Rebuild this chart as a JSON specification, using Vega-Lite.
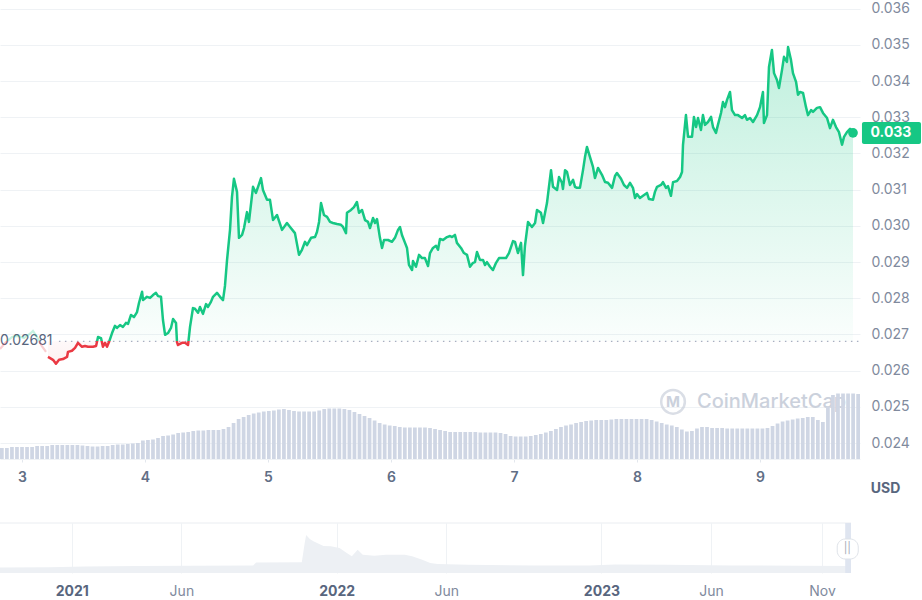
{
  "$schema": "https://vega.github.io/schema/vega-lite/v6.json",
  "padding": {"left": -5, "top": 0, "right": 0, "bottom": 0},
  "background": "white",
  "spacing": 27,
  "config": {"font": "Inter", "view": {"stroke": null}},
  "datasets": {
    "price": [
      {"seg": "pre", "t": 2.821, "p": 0.02660}, {"seg": "pre", "t": 2.870, "p": 0.02679}, {"seg": "pre", "t": 2.919, "p": 0.02693},
      {"seg": "pre", "t": 2.967, "p": 0.02696}, {"seg": "pre", "t": 3.016, "p": 0.02690}, {"seg": "pre", "t": 3.065, "p": 0.02702},
      {"seg": "pre", "t": 3.089, "p": 0.02710}, {"seg": "pre", "t": 3.122, "p": 0.02693}, {"seg": "pre", "t": 3.162, "p": 0.02668},
      {"seg": "pre", "t": 3.195, "p": 0.02652},
      {"seg": "main", "t": 3.211, "p": 0.02638}, {"seg": "main", "t": 3.252, "p": 0.02630}, {"seg": "main", "t": 3.276, "p": 0.02619},
      {"seg": "main", "t": 3.301, "p": 0.02630}, {"seg": "main", "t": 3.333, "p": 0.02632}, {"seg": "main", "t": 3.366, "p": 0.02638},
      {"seg": "main", "t": 3.374, "p": 0.02652}, {"seg": "main", "t": 3.406, "p": 0.02655}, {"seg": "main", "t": 3.431, "p": 0.02663},
      {"seg": "main", "t": 3.455, "p": 0.02677}, {"seg": "main", "t": 3.488, "p": 0.02666}, {"seg": "main", "t": 3.512, "p": 0.02668},
      {"seg": "main", "t": 3.536, "p": 0.02666}, {"seg": "main", "t": 3.577, "p": 0.02666}, {"seg": "main", "t": 3.602, "p": 0.02668},
      {"seg": "main", "t": 3.618, "p": 0.02693}, {"seg": "main", "t": 3.642, "p": 0.02690}, {"seg": "main", "t": 3.658, "p": 0.02666},
      {"seg": "main", "t": 3.675, "p": 0.02677}, {"seg": "main", "t": 3.691, "p": 0.02666}, {"seg": "main", "t": 3.707, "p": 0.02679},
      {"seg": "main", "t": 3.732, "p": 0.02704}, {"seg": "main", "t": 3.756, "p": 0.02724}, {"seg": "main", "t": 3.772, "p": 0.02718},
      {"seg": "main", "t": 3.797, "p": 0.02726}, {"seg": "main", "t": 3.821, "p": 0.02721}, {"seg": "main", "t": 3.845, "p": 0.02732},
      {"seg": "main", "t": 3.862, "p": 0.02729}, {"seg": "main", "t": 3.886, "p": 0.02754}, {"seg": "main", "t": 3.910, "p": 0.02748},
      {"seg": "main", "t": 3.935, "p": 0.02762}, {"seg": "main", "t": 3.951, "p": 0.02787}, {"seg": "main", "t": 3.976, "p": 0.02818},
      {"seg": "main", "t": 3.984, "p": 0.02795}, {"seg": "main", "t": 4.016, "p": 0.02804}, {"seg": "main", "t": 4.041, "p": 0.02801},
      {"seg": "main", "t": 4.065, "p": 0.02809}, {"seg": "main", "t": 4.089, "p": 0.02815}, {"seg": "main", "t": 4.106, "p": 0.02806},
      {"seg": "main", "t": 4.130, "p": 0.02804}, {"seg": "main", "t": 4.146, "p": 0.02740}, {"seg": "main", "t": 4.163, "p": 0.02699},
      {"seg": "main", "t": 4.187, "p": 0.02704}, {"seg": "main", "t": 4.211, "p": 0.02718}, {"seg": "main", "t": 4.228, "p": 0.02743},
      {"seg": "main", "t": 4.252, "p": 0.02732}, {"seg": "main", "t": 4.260, "p": 0.02679}, {"seg": "main", "t": 4.268, "p": 0.02671},
      {"seg": "main", "t": 4.301, "p": 0.02677}, {"seg": "main", "t": 4.325, "p": 0.02677}, {"seg": "main", "t": 4.350, "p": 0.02671},
      {"seg": "main", "t": 4.366, "p": 0.02721}, {"seg": "main", "t": 4.390, "p": 0.02773}, {"seg": "main", "t": 4.406, "p": 0.02771},
      {"seg": "main", "t": 4.431, "p": 0.02760}, {"seg": "main", "t": 4.447, "p": 0.02776}, {"seg": "main", "t": 4.471, "p": 0.02757},
      {"seg": "main", "t": 4.496, "p": 0.02784}, {"seg": "main", "t": 4.512, "p": 0.02776}, {"seg": "main", "t": 4.536, "p": 0.02790},
      {"seg": "main", "t": 4.553, "p": 0.02804}, {"seg": "main", "t": 4.585, "p": 0.02815}, {"seg": "main", "t": 4.610, "p": 0.02804},
      {"seg": "main", "t": 4.634, "p": 0.02795}, {"seg": "main", "t": 4.650, "p": 0.02834}, {"seg": "main", "t": 4.667, "p": 0.02906},
      {"seg": "main", "t": 4.691, "p": 0.02989}, {"seg": "main", "t": 4.707, "p": 0.03080}, {"seg": "main", "t": 4.723, "p": 0.03130},
      {"seg": "main", "t": 4.748, "p": 0.03094}, {"seg": "main", "t": 4.764, "p": 0.02967}, {"seg": "main", "t": 4.789, "p": 0.02975},
      {"seg": "main", "t": 4.805, "p": 0.02994}, {"seg": "main", "t": 4.829, "p": 0.03038}, {"seg": "main", "t": 4.845, "p": 0.03011},
      {"seg": "main", "t": 4.878, "p": 0.03108}, {"seg": "main", "t": 4.902, "p": 0.03091}, {"seg": "main", "t": 4.919, "p": 0.03108},
      {"seg": "main", "t": 4.943, "p": 0.03132}, {"seg": "main", "t": 4.959, "p": 0.03099}, {"seg": "main", "t": 4.992, "p": 0.03072},
      {"seg": "main", "t": 5.016, "p": 0.03072}, {"seg": "main", "t": 5.041, "p": 0.03016}, {"seg": "main", "t": 5.073, "p": 0.03030},
      {"seg": "main", "t": 5.114, "p": 0.02989}, {"seg": "main", "t": 5.154, "p": 0.03008}, {"seg": "main", "t": 5.179, "p": 0.02997},
      {"seg": "main", "t": 5.219, "p": 0.02980}, {"seg": "main", "t": 5.252, "p": 0.02920}, {"seg": "main", "t": 5.276, "p": 0.02934},
      {"seg": "main", "t": 5.301, "p": 0.02956}, {"seg": "main", "t": 5.317, "p": 0.02947}, {"seg": "main", "t": 5.350, "p": 0.02967},
      {"seg": "main", "t": 5.382, "p": 0.02969}, {"seg": "main", "t": 5.398, "p": 0.02983}, {"seg": "main", "t": 5.415, "p": 0.03011},
      {"seg": "main", "t": 5.431, "p": 0.03063}, {"seg": "main", "t": 5.455, "p": 0.03030}, {"seg": "main", "t": 5.480, "p": 0.03025},
      {"seg": "main", "t": 5.504, "p": 0.03011}, {"seg": "main", "t": 5.528, "p": 0.03008}, {"seg": "main", "t": 5.561, "p": 0.03005},
      {"seg": "main", "t": 5.593, "p": 0.03003}, {"seg": "main", "t": 5.610, "p": 0.02997}, {"seg": "main", "t": 5.634, "p": 0.02980},
      {"seg": "main", "t": 5.642, "p": 0.03036}, {"seg": "main", "t": 5.675, "p": 0.03044}, {"seg": "main", "t": 5.699, "p": 0.03052},
      {"seg": "main", "t": 5.723, "p": 0.03066}, {"seg": "main", "t": 5.740, "p": 0.03036}, {"seg": "main", "t": 5.764, "p": 0.03044},
      {"seg": "main", "t": 5.789, "p": 0.03016}, {"seg": "main", "t": 5.813, "p": 0.03011}, {"seg": "main", "t": 5.829, "p": 0.02994},
      {"seg": "main", "t": 5.854, "p": 0.03022}, {"seg": "main", "t": 5.870, "p": 0.03008}, {"seg": "main", "t": 5.886, "p": 0.03019},
      {"seg": "main", "t": 5.910, "p": 0.02967}, {"seg": "main", "t": 5.927, "p": 0.02939}, {"seg": "main", "t": 5.943, "p": 0.02961},
      {"seg": "main", "t": 5.976, "p": 0.02961}, {"seg": "main", "t": 6.008, "p": 0.02956}, {"seg": "main", "t": 6.032, "p": 0.02967},
      {"seg": "main", "t": 6.057, "p": 0.02989}, {"seg": "main", "t": 6.073, "p": 0.02997}, {"seg": "main", "t": 6.089, "p": 0.02975},
      {"seg": "main", "t": 6.114, "p": 0.02953}, {"seg": "main", "t": 6.130, "p": 0.02939}, {"seg": "main", "t": 6.146, "p": 0.02892},
      {"seg": "main", "t": 6.171, "p": 0.02878}, {"seg": "main", "t": 6.179, "p": 0.02903}, {"seg": "main", "t": 6.203, "p": 0.02887},
      {"seg": "main", "t": 6.228, "p": 0.02920}, {"seg": "main", "t": 6.252, "p": 0.02911}, {"seg": "main", "t": 6.276, "p": 0.02911},
      {"seg": "main", "t": 6.301, "p": 0.02889}, {"seg": "main", "t": 6.317, "p": 0.02925}, {"seg": "main", "t": 6.341, "p": 0.02939},
      {"seg": "main", "t": 6.366, "p": 0.02945}, {"seg": "main", "t": 6.382, "p": 0.02934}, {"seg": "main", "t": 6.398, "p": 0.02964},
      {"seg": "main", "t": 6.423, "p": 0.02961}, {"seg": "main", "t": 6.455, "p": 0.02969}, {"seg": "main", "t": 6.480, "p": 0.02972},
      {"seg": "main", "t": 6.496, "p": 0.02969}, {"seg": "main", "t": 6.520, "p": 0.02975}, {"seg": "main", "t": 6.536, "p": 0.02953},
      {"seg": "main", "t": 6.569, "p": 0.02939}, {"seg": "main", "t": 6.593, "p": 0.02925}, {"seg": "main", "t": 6.618, "p": 0.02920},
      {"seg": "main", "t": 6.642, "p": 0.02887}, {"seg": "main", "t": 6.667, "p": 0.02898}, {"seg": "main", "t": 6.683, "p": 0.02900},
      {"seg": "main", "t": 6.699, "p": 0.02928}, {"seg": "main", "t": 6.723, "p": 0.02906}, {"seg": "main", "t": 6.748, "p": 0.02906},
      {"seg": "main", "t": 6.764, "p": 0.02892}, {"seg": "main", "t": 6.780, "p": 0.02900}, {"seg": "main", "t": 6.805, "p": 0.02887},
      {"seg": "main", "t": 6.829, "p": 0.02878}, {"seg": "main", "t": 6.854, "p": 0.02898}, {"seg": "main", "t": 6.878, "p": 0.02911},
      {"seg": "main", "t": 6.910, "p": 0.02911}, {"seg": "main", "t": 6.935, "p": 0.02911}, {"seg": "main", "t": 6.959, "p": 0.02925},
      {"seg": "main", "t": 6.992, "p": 0.02958}, {"seg": "main", "t": 7.008, "p": 0.02956}, {"seg": "main", "t": 7.032, "p": 0.02925},
      {"seg": "main", "t": 7.057, "p": 0.02953}, {"seg": "main", "t": 7.073, "p": 0.02864}, {"seg": "main", "t": 7.089, "p": 0.02945},
      {"seg": "main", "t": 7.114, "p": 0.03011}, {"seg": "main", "t": 7.146, "p": 0.02997}, {"seg": "main", "t": 7.171, "p": 0.03008},
      {"seg": "main", "t": 7.187, "p": 0.03044}, {"seg": "main", "t": 7.219, "p": 0.03036}, {"seg": "main", "t": 7.236, "p": 0.03008},
      {"seg": "main", "t": 7.268, "p": 0.03063}, {"seg": "main", "t": 7.284, "p": 0.03108}, {"seg": "main", "t": 7.301, "p": 0.03154},
      {"seg": "main", "t": 7.317, "p": 0.03108}, {"seg": "main", "t": 7.350, "p": 0.03099}, {"seg": "main", "t": 7.366, "p": 0.03135},
      {"seg": "main", "t": 7.390, "p": 0.03119}, {"seg": "main", "t": 7.398, "p": 0.03102}, {"seg": "main", "t": 7.415, "p": 0.03154},
      {"seg": "main", "t": 7.431, "p": 0.03149}, {"seg": "main", "t": 7.455, "p": 0.03113}, {"seg": "main", "t": 7.480, "p": 0.03127},
      {"seg": "main", "t": 7.496, "p": 0.03108}, {"seg": "main", "t": 7.512, "p": 0.03105}, {"seg": "main", "t": 7.536, "p": 0.03105},
      {"seg": "main", "t": 7.561, "p": 0.03154}, {"seg": "main", "t": 7.577, "p": 0.03190}, {"seg": "main", "t": 7.593, "p": 0.03218},
      {"seg": "main", "t": 7.618, "p": 0.03190}, {"seg": "main", "t": 7.642, "p": 0.03163}, {"seg": "main", "t": 7.658, "p": 0.03132},
      {"seg": "main", "t": 7.683, "p": 0.03160}, {"seg": "main", "t": 7.715, "p": 0.03141}, {"seg": "main", "t": 7.740, "p": 0.03121},
      {"seg": "main", "t": 7.764, "p": 0.03119}, {"seg": "main", "t": 7.797, "p": 0.03105}, {"seg": "main", "t": 7.821, "p": 0.03138},
      {"seg": "main", "t": 7.837, "p": 0.03146}, {"seg": "main", "t": 7.870, "p": 0.03130}, {"seg": "main", "t": 7.894, "p": 0.03113},
      {"seg": "main", "t": 7.919, "p": 0.03105}, {"seg": "main", "t": 7.943, "p": 0.03119}, {"seg": "main", "t": 7.967, "p": 0.03105},
      {"seg": "main", "t": 7.984, "p": 0.03077}, {"seg": "main", "t": 8.000, "p": 0.03088}, {"seg": "main", "t": 8.024, "p": 0.03077},
      {"seg": "main", "t": 8.049, "p": 0.03083}, {"seg": "main", "t": 8.081, "p": 0.03091}, {"seg": "main", "t": 8.097, "p": 0.03074},
      {"seg": "main", "t": 8.130, "p": 0.03072}, {"seg": "main", "t": 8.146, "p": 0.03094}, {"seg": "main", "t": 8.163, "p": 0.03108},
      {"seg": "main", "t": 8.195, "p": 0.03113}, {"seg": "main", "t": 8.211, "p": 0.03121}, {"seg": "main", "t": 8.236, "p": 0.03105},
      {"seg": "main", "t": 8.252, "p": 0.03110}, {"seg": "main", "t": 8.276, "p": 0.03083}, {"seg": "main", "t": 8.293, "p": 0.03121},
      {"seg": "main", "t": 8.325, "p": 0.03124}, {"seg": "main", "t": 8.350, "p": 0.03135}, {"seg": "main", "t": 8.366, "p": 0.03149},
      {"seg": "main", "t": 8.374, "p": 0.03224}, {"seg": "main", "t": 8.398, "p": 0.03306}, {"seg": "main", "t": 8.415, "p": 0.03246},
      {"seg": "main", "t": 8.447, "p": 0.03246}, {"seg": "main", "t": 8.463, "p": 0.03301}, {"seg": "main", "t": 8.480, "p": 0.03273},
      {"seg": "main", "t": 8.496, "p": 0.03298}, {"seg": "main", "t": 8.520, "p": 0.03265}, {"seg": "main", "t": 8.536, "p": 0.03306},
      {"seg": "main", "t": 8.553, "p": 0.03279}, {"seg": "main", "t": 8.577, "p": 0.03287}, {"seg": "main", "t": 8.602, "p": 0.03301},
      {"seg": "main", "t": 8.618, "p": 0.03273}, {"seg": "main", "t": 8.642, "p": 0.03257}, {"seg": "main", "t": 8.658, "p": 0.03279},
      {"seg": "main", "t": 8.683, "p": 0.03312}, {"seg": "main", "t": 8.699, "p": 0.03342}, {"seg": "main", "t": 8.715, "p": 0.03328},
      {"seg": "main", "t": 8.732, "p": 0.03348}, {"seg": "main", "t": 8.756, "p": 0.03370}, {"seg": "main", "t": 8.772, "p": 0.03320},
      {"seg": "main", "t": 8.797, "p": 0.03306}, {"seg": "main", "t": 8.821, "p": 0.03306}, {"seg": "main", "t": 8.854, "p": 0.03298},
      {"seg": "main", "t": 8.878, "p": 0.03306}, {"seg": "main", "t": 8.894, "p": 0.03293}, {"seg": "main", "t": 8.919, "p": 0.03298},
      {"seg": "main", "t": 8.943, "p": 0.03287}, {"seg": "main", "t": 8.976, "p": 0.03306}, {"seg": "main", "t": 9.000, "p": 0.03328},
      {"seg": "main", "t": 9.024, "p": 0.03370}, {"seg": "main", "t": 9.032, "p": 0.03284}, {"seg": "main", "t": 9.057, "p": 0.03306},
      {"seg": "main", "t": 9.073, "p": 0.03439}, {"seg": "main", "t": 9.097, "p": 0.03486}, {"seg": "main", "t": 9.114, "p": 0.03422},
      {"seg": "main", "t": 9.138, "p": 0.03403}, {"seg": "main", "t": 9.154, "p": 0.03381}, {"seg": "main", "t": 9.179, "p": 0.03431},
      {"seg": "main", "t": 9.195, "p": 0.03467}, {"seg": "main", "t": 9.219, "p": 0.03453}, {"seg": "main", "t": 9.228, "p": 0.03494},
      {"seg": "main", "t": 9.252, "p": 0.03458}, {"seg": "main", "t": 9.268, "p": 0.03422}, {"seg": "main", "t": 9.293, "p": 0.03398},
      {"seg": "main", "t": 9.309, "p": 0.03362}, {"seg": "main", "t": 9.325, "p": 0.03370}, {"seg": "main", "t": 9.350, "p": 0.03367},
      {"seg": "main", "t": 9.374, "p": 0.03328}, {"seg": "main", "t": 9.390, "p": 0.03306}, {"seg": "main", "t": 9.415, "p": 0.03320},
      {"seg": "main", "t": 9.431, "p": 0.03315}, {"seg": "main", "t": 9.463, "p": 0.03326}, {"seg": "main", "t": 9.488, "p": 0.03328},
      {"seg": "main", "t": 9.512, "p": 0.03312}, {"seg": "main", "t": 9.545, "p": 0.03298}, {"seg": "main", "t": 9.569, "p": 0.03270},
      {"seg": "main", "t": 9.593, "p": 0.03293}, {"seg": "main", "t": 9.618, "p": 0.03273}, {"seg": "main", "t": 9.642, "p": 0.03259},
      {"seg": "main", "t": 9.667, "p": 0.03224}, {"seg": "main", "t": 9.683, "p": 0.03246}, {"seg": "main", "t": 9.707, "p": 0.03259},
      {"seg": "main", "t": 9.732, "p": 0.03268}, {"seg": "main", "t": 9.756, "p": 0.03257}
    ],
    "volume": [
      {"i": 0, "vol": 11}, {"i": 1, "vol": 11}, {"i": 2, "vol": 12}, {"i": 3, "vol": 12}, {"i": 4, "vol": 12},
      {"i": 5, "vol": 12}, {"i": 6, "vol": 12}, {"i": 7, "vol": 13}, {"i": 8, "vol": 13}, {"i": 9, "vol": 13},
      {"i": 10, "vol": 14}, {"i": 11, "vol": 14}, {"i": 12, "vol": 14}, {"i": 13, "vol": 14}, {"i": 14, "vol": 14},
      {"i": 15, "vol": 14}, {"i": 16, "vol": 13.5}, {"i": 17, "vol": 13}, {"i": 18, "vol": 12.5}, {"i": 19, "vol": 12.5},
      {"i": 20, "vol": 13}, {"i": 21, "vol": 13}, {"i": 22, "vol": 14}, {"i": 23, "vol": 14.5}, {"i": 24, "vol": 14.5},
      {"i": 25, "vol": 15}, {"i": 26, "vol": 15.5}, {"i": 27, "vol": 16}, {"i": 28, "vol": 18.5}, {"i": 29, "vol": 19},
      {"i": 30, "vol": 19.5}, {"i": 31, "vol": 21}, {"i": 32, "vol": 23}, {"i": 33, "vol": 23.5}, {"i": 34, "vol": 24.5},
      {"i": 35, "vol": 26}, {"i": 36, "vol": 26.5}, {"i": 37, "vol": 27}, {"i": 38, "vol": 28}, {"i": 39, "vol": 28.5},
      {"i": 40, "vol": 28.5}, {"i": 41, "vol": 29}, {"i": 42, "vol": 29}, {"i": 43, "vol": 29}, {"i": 44, "vol": 30},
      {"i": 45, "vol": 32}, {"i": 46, "vol": 36}, {"i": 47, "vol": 40}, {"i": 48, "vol": 42}, {"i": 49, "vol": 44},
      {"i": 50, "vol": 45.5}, {"i": 51, "vol": 46.5}, {"i": 52, "vol": 47.5}, {"i": 53, "vol": 48}, {"i": 54, "vol": 48.5},
      {"i": 55, "vol": 49.5}, {"i": 56, "vol": 50}, {"i": 57, "vol": 49}, {"i": 58, "vol": 48}, {"i": 59, "vol": 47.5},
      {"i": 60, "vol": 47.5}, {"i": 61, "vol": 47.5}, {"i": 62, "vol": 47.5}, {"i": 63, "vol": 48.5}, {"i": 64, "vol": 50},
      {"i": 65, "vol": 50.5}, {"i": 66, "vol": 50.5}, {"i": 67, "vol": 50.5}, {"i": 68, "vol": 50}, {"i": 69, "vol": 49},
      {"i": 70, "vol": 47}, {"i": 71, "vol": 45}, {"i": 72, "vol": 43}, {"i": 73, "vol": 41}, {"i": 74, "vol": 38.5},
      {"i": 75, "vol": 36}, {"i": 76, "vol": 34.5}, {"i": 77, "vol": 33.5}, {"i": 78, "vol": 33}, {"i": 79, "vol": 32},
      {"i": 80, "vol": 31.5}, {"i": 81, "vol": 31.5}, {"i": 82, "vol": 31.5}, {"i": 83, "vol": 31.5}, {"i": 84, "vol": 31.5},
      {"i": 85, "vol": 31}, {"i": 86, "vol": 30}, {"i": 87, "vol": 29}, {"i": 88, "vol": 28}, {"i": 89, "vol": 27},
      {"i": 90, "vol": 27}, {"i": 91, "vol": 27}, {"i": 92, "vol": 27}, {"i": 93, "vol": 27}, {"i": 94, "vol": 27},
      {"i": 95, "vol": 26.5}, {"i": 96, "vol": 26.5}, {"i": 97, "vol": 26.5}, {"i": 98, "vol": 26.5}, {"i": 99, "vol": 26},
      {"i": 100, "vol": 25}, {"i": 101, "vol": 23}, {"i": 102, "vol": 22.5}, {"i": 103, "vol": 22.5}, {"i": 104, "vol": 22.5},
      {"i": 105, "vol": 23}, {"i": 106, "vol": 24}, {"i": 107, "vol": 25}, {"i": 108, "vol": 26.5}, {"i": 109, "vol": 28},
      {"i": 110, "vol": 30}, {"i": 111, "vol": 32}, {"i": 112, "vol": 33.5}, {"i": 113, "vol": 34.5}, {"i": 114, "vol": 36},
      {"i": 115, "vol": 37}, {"i": 116, "vol": 38}, {"i": 117, "vol": 38.5}, {"i": 118, "vol": 39}, {"i": 119, "vol": 39},
      {"i": 120, "vol": 39}, {"i": 121, "vol": 39.5}, {"i": 122, "vol": 40}, {"i": 123, "vol": 40}, {"i": 124, "vol": 40},
      {"i": 125, "vol": 40}, {"i": 126, "vol": 40}, {"i": 127, "vol": 40}, {"i": 128, "vol": 40}, {"i": 129, "vol": 39},
      {"i": 130, "vol": 37.5}, {"i": 131, "vol": 36}, {"i": 132, "vol": 34.5}, {"i": 133, "vol": 33.5}, {"i": 134, "vol": 32},
      {"i": 135, "vol": 29.5}, {"i": 136, "vol": 27.5}, {"i": 137, "vol": 28}, {"i": 138, "vol": 30.5}, {"i": 139, "vol": 32},
      {"i": 140, "vol": 32}, {"i": 141, "vol": 31}, {"i": 142, "vol": 31}, {"i": 143, "vol": 31}, {"i": 144, "vol": 30.5},
      {"i": 145, "vol": 30.5}, {"i": 146, "vol": 30.5}, {"i": 147, "vol": 30.5}, {"i": 148, "vol": 30.5}, {"i": 149, "vol": 30.5},
      {"i": 150, "vol": 30.5}, {"i": 151, "vol": 30.5}, {"i": 152, "vol": 31}, {"i": 153, "vol": 33}, {"i": 154, "vol": 35.5},
      {"i": 155, "vol": 37.5}, {"i": 156, "vol": 38.5}, {"i": 157, "vol": 39.5}, {"i": 158, "vol": 40.5}, {"i": 159, "vol": 41},
      {"i": 160, "vol": 42}, {"i": 161, "vol": 42}, {"i": 162, "vol": 39}, {"i": 163, "vol": 37}, {"i": 164, "vol": 52},
      {"i": 165, "vol": 64}, {"i": 166, "vol": 65.5}, {"i": 167, "vol": 65.5}, {"i": 168, "vol": 65.5}, {"i": 169, "vol": 65.5},
      {"i": 170, "vol": 65}
    ],
    "nav": [
      {"d": "2020-09-24T00:00:00", "v": 5.5}, {"d": "2020-12-01T00:00:00", "v": 5.7}, {"d": "2021-01-20T00:00:00", "v": 6.5},
      {"d": "2021-04-01T00:00:00", "v": 7}, {"d": "2021-06-15T00:00:00", "v": 7.3}, {"d": "2021-09-08T00:00:00", "v": 7.5},
      {"d": "2021-09-12T00:00:00", "v": 10.5}, {"d": "2021-11-14T00:00:00", "v": 10.7}, {"d": "2021-11-18T00:00:00", "v": 30},
      {"d": "2021-11-20T00:00:00", "v": 38}, {"d": "2021-11-25T00:00:00", "v": 34}, {"d": "2021-11-30T00:00:00", "v": 31.7},
      {"d": "2021-12-08T00:00:00", "v": 29}, {"d": "2021-12-14T00:00:00", "v": 27}, {"d": "2021-12-24T00:00:00", "v": 26.7},
      {"d": "2022-01-05T00:00:00", "v": 25}, {"d": "2022-01-15T00:00:00", "v": 20}, {"d": "2022-01-22T00:00:00", "v": 16.7},
      {"d": "2022-01-30T00:00:00", "v": 23.3}, {"d": "2022-02-06T00:00:00", "v": 18.3}, {"d": "2022-02-22T00:00:00", "v": 17.3},
      {"d": "2022-03-10T00:00:00", "v": 18.3}, {"d": "2022-04-05T00:00:00", "v": 18.3}, {"d": "2022-04-15T00:00:00", "v": 16.7},
      {"d": "2022-04-29T00:00:00", "v": 13.3}, {"d": "2022-05-10T00:00:00", "v": 10}, {"d": "2022-05-20T00:00:00", "v": 9},
      {"d": "2022-07-01T00:00:00", "v": 8.3}, {"d": "2022-10-01T00:00:00", "v": 7.5}, {"d": "2022-12-15T00:00:00", "v": 7.5},
      {"d": "2023-01-20T00:00:00", "v": 8.5}, {"d": "2023-04-01T00:00:00", "v": 8.3}, {"d": "2023-07-01T00:00:00", "v": 7.5},
      {"d": "2023-10-01T00:00:00", "v": 7.3}, {"d": "2023-12-11T00:00:00", "v": 7}
    ]
  },
  "vconcat": [
    {
      "width": 860,
      "height": 459,
      "resolve": {"scale": {"x": "independent", "y": "independent"}},
      "layer": [
        {
          "data": {"values": [{}]},
          "layer": [
            {
              "mark": {"type": "point", "shape": "circle", "size": 560, "filled": false, "stroke": "#cbd1dc", "strokeWidth": 2.5},
              "encoding": {
                "x": {"datum": 8.293, "type": "quantitative", "scale": {"domain": [2.821, 9.813], "nice": false, "zero": false}, "axis": null},
                "y": {"datum": 0.02514, "type": "quantitative", "scale": {"domain": [0.02356, 0.03624], "nice": false, "zero": false}, "axis": null}
              }
            },
            {
              "mark": {"type": "text", "text": "M", "fontSize": 15, "fontWeight": "bold", "color": "#cbd1dc"},
              "encoding": {
                "x": {"datum": 8.293, "type": "quantitative", "axis": null},
                "y": {"datum": 0.02514, "type": "quantitative", "axis": null}
              }
            },
            {
              "mark": {"type": "text", "text": "CoinMarketCap", "align": "left", "fontSize": 20, "fontWeight": 500, "color": "#cbd1dc"},
              "encoding": {
                "x": {"datum": 8.488, "type": "quantitative", "axis": null},
                "y": {"datum": 0.02514, "type": "quantitative", "axis": null}
              }
            }
          ]
        },
        {
          "data": {"name": "volume"},
          "mark": {"type": "bar", "color": "#cfd6e4"},
          "encoding": {
            "x": {"field": "i", "type": "ordinal", "axis": null, "scale": {"paddingInner": 0.26, "paddingOuter": 0}},
            "y": {"field": "vol", "type": "quantitative", "axis": null, "scale": {"domain": [0, 459]}}
          }
        },
        {
          "data": {"values": [{}]},
          "layer": [
            {
              "mark": {"type": "rule", "stroke": "#a8b1c2", "strokeDash": [1.5, 4.5], "strokeWidth": 1.4},
              "encoding": {
                "x": {"datum": 3.3, "type": "quantitative", "scale": {"domain": [2.821, 9.813], "nice": false, "zero": false}, "axis": null},
                "x2": {"datum": 9.813},
                "y": {"datum": 0.02681, "type": "quantitative", "scale": {"domain": [0.02356, 0.03624], "nice": false, "zero": false}, "axis": null}
              }
            },
            {
              "mark": {"type": "text", "text": "0.02681", "align": "left", "baseline": "middle", "fontSize": 14, "color": "#58667e"},
              "encoding": {
                "x": {"datum": 2.821, "type": "quantitative", "axis": null},
                "y": {"datum": 0.02681, "type": "quantitative", "axis": null}
              }
            },
            {
              "mark": {"type": "rect", "color": "#16c784", "cornerRadius": 2},
              "encoding": {
                "x": {"datum": 9.829, "type": "quantitative", "axis": null},
                "x2": {"datum": 10.309},
                "y": {"datum": 0.03287, "type": "quantitative", "axis": null},
                "y2": {"datum": 0.03226}
              }
            },
            {
              "mark": {"type": "text", "text": "0.033", "color": "white", "fontSize": 14, "fontWeight": "bold", "baseline": "middle"},
              "encoding": {
                "x": {"datum": 10.065, "type": "quantitative", "axis": null},
                "y": {"datum": 0.03257, "type": "quantitative", "axis": null}
              }
            }
          ]
        },
        {
          "data": {"name": "price"},
          "encoding": {
            "x": {
              "field": "t", "type": "quantitative",
              "scale": {"domain": [2.821, 9.813], "nice": false, "zero": false},
              "axis": {
                "orient": "bottom",
                "values": [3, 4, 5, 6, 7, 8, 9], "format": "d", "title": null, "grid": false,
                "domain": true, "domainColor": "#eff2f5", "ticks": true, "tickSize": 3, "tickColor": "#e3e7ed", "labelFlush": false,
                "labelFontSize": 14, "labelFontWeight": 600, "labelColor": "#616e85", "labelPadding": 8
              }
            },
            "y": {
              "field": "p", "type": "quantitative",
              "scale": {"domain": [0.02356, 0.03624], "nice": false, "zero": false},
              "axis": {
                "orient": "right",
                "values": [0.024, 0.025, 0.026, 0.027, 0.028, 0.029, 0.03, 0.031, 0.032, 0.033, 0.034, 0.035, 0.036],
                "format": ".3f", "grid": true, "gridColor": "#eff2f5", "domain": false, "ticks": false,
                "labelFontSize": 14, "labelColor": "#808a9d", "labelPadding": 11, "labelFlush": false,
                "title": "USD", "titleAngle": 0, "titleX": 25, "titleY": 488, "titleAlign": "center",
                "titleBaseline": "middle", "titleFontSize": 14, "titleFontWeight": "bold", "titleColor": "#58667e"
              }
            }
          },
          "layer": [
            {
              "transform": [{"filter": "datum.seg == 'main'"}],
              "mark": {
                "type": "area",
                "fill": {
                  "gradient": "linear", "x1": 0, "y1": 0, "x2": 0, "y2": 1,
                  "stops": [
                    {"offset": 0, "color": "rgba(22,199,132,0.27)"},
                    {"offset": 0.929, "color": "rgba(22,199,132,0.02)"},
                    {"offset": 0.929, "color": "rgba(234,57,67,0.03)"},
                    {"offset": 1, "color": "rgba(234,57,67,0.07)"}
                  ]
                }
              },
              "encoding": {"y2": {"datum": 0.02681}}
            },
            {
              "transform": [{"filter": "datum.seg == 'pre'"}],
              "mark": {
                "type": "line", "strokeWidth": 2.2, "opacity": 0.25,
                "stroke": {
                  "gradient": "linear", "x1": 0, "y1": 0, "x2": 0, "y2": 1,
                  "stops": [
                    {"offset": 0, "color": "#16c784"}, {"offset": 0.5, "color": "#16c784"},
                    {"offset": 0.5, "color": "#ea3943"}, {"offset": 1, "color": "#ea3943"}
                  ]
                }
              }
            },
            {
              "transform": [{"filter": "datum.seg == 'main'"}],
              "mark": {
                "type": "line", "strokeWidth": 2.5, "strokeJoin": "round",
                "stroke": {
                  "gradient": "linear", "x1": 0, "y1": 0, "x2": 0, "y2": 1,
                  "stops": [
                    {"offset": 0, "color": "#16c784"}, {"offset": 0.929, "color": "#16c784"},
                    {"offset": 0.929, "color": "#ea3943"}, {"offset": 1, "color": "#ea3943"}
                  ]
                }
              }
            },
            {
              "data": {"values": [{"t": 9.756, "p": 0.03257}]},
              "mark": {"type": "circle", "size": 95, "color": "#16c784", "opacity": 1}
            }
          ]
        }
      ]
    },
    {
      "width": 851,
      "height": 50,
      "layer": [
        {
          "data": {"name": "nav"},
          "mark": {"type": "area", "color": "#edf0f4"},
          "encoding": {
            "x": {
              "field": "d", "type": "temporal",
              "scale": {"domain": [{"year": 2020, "month": 9, "date": 24}, {"year": 2023, "month": 12, "date": 11}]},
              "axis": {
                "values": [
                  {"year": 2021, "month": 1, "date": 1}, {"year": 2021, "month": 6, "date": 1},
                  {"year": 2022, "month": 1, "date": 1}, {"year": 2022, "month": 6, "date": 1},
                  {"year": 2023, "month": 1, "date": 1}, {"year": 2023, "month": 6, "date": 1},
                  {"year": 2023, "month": 11, "date": 1}
                ],
                "labelExpr": "month(datum.value) == 0 ? timeFormat(datum.value, '%Y') : timeFormat(datum.value, '%b')",
                "labelFontWeight": {"condition": {"test": "month(datum.value) == 0", "value": "bold"}, "value": "normal"},
                "labelColor": {"condition": {"test": "month(datum.value) == 0", "value": "#58667e"}, "value": "#808a9d"},
                "title": null, "grid": true, "gridColor": "#eff2f5", "domain": false, "ticks": false,
                "labelFontSize": 14, "labelPadding": 11, "labelFlush": false
              }
            },
            "y": {"field": "v", "type": "quantitative", "scale": {"domain": [0, 50]}, "axis": null}
          }
        },
        {
          "data": {"values": [{}]},
          "mark": {"type": "rule", "color": "#eaedf1"},
          "encoding": {"y": {"datum": 50, "type": "quantitative"}}
        },
        {
          "data": {"values": [{}]},
          "mark": {"type": "rect", "color": "#dfe5f0"},
          "encoding": {
            "x": {"datum": {"year": 2023, "month": 12, "date": 3}, "type": "temporal"},
            "x2": {"datum": {"year": 2023, "month": 12, "date": 11}},
            "y": {"datum": 0, "type": "quantitative"},
            "y2": {"datum": 50}
          }
        },
        {
          "data": {"values": [{}]},
          "mark": {"type": "rect", "fill": "white", "stroke": "#dfe3e9", "strokeWidth": 1, "cornerRadius": 8},
          "encoding": {
            "x": {"datum": {"year": 2023, "month": 11, "date": 22}, "type": "temporal"},
            "x2": {"datum": {"year": 2023, "month": 12, "date": 21}},
            "y": {"datum": 14, "type": "quantitative"},
            "y2": {"datum": 34}
          }
        },
        {
          "data": {"values": [{}]},
          "mark": {"type": "text", "text": "||", "fontSize": 11, "color": "#a6adb9", "baseline": "middle"},
          "encoding": {
            "x": {"datum": {"year": 2023, "month": 12, "date": 6}, "type": "temporal"},
            "y": {"datum": 24, "type": "quantitative"}
          }
        }
      ]
    }
  ]
}
